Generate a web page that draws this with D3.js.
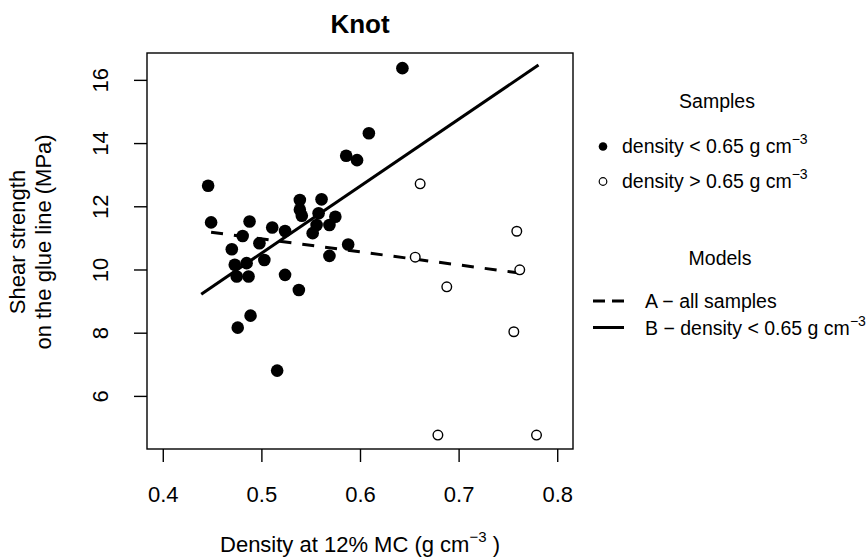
<!DOCTYPE html>
<html>
<head>
<meta charset="utf-8">
<script src="https://cdn.jsdelivr.net/npm/d3@7"></script>
<style>
    body { margin: 0; background: #fff; }
    svg text { font-family: "Liberation Sans", Arial, sans-serif; fill: #000; }
</style>
</head>
<body>
<div id="chart"></div>
<script>
// samples with density < 0.65 (filled dots)
const lowDensity = [0.446, 0.449, 0.470, 0.473, 0.475, 0.476, 0.481, 0.485, 0.487, 0.488, 0.489,
    0.498, 0.503, 0.511, 0.516, 0.524, 0.524, 0.538, 0.539, 0.539, 0.541, 0.552, 0.556, 0.558,
    0.561, 0.569, 0.569, 0.575, 0.586, 0.588, 0.597, 0.609, 0.643];
const lowStrength = [12.65, 11.49, 10.64, 10.15, 9.78, 8.16, 11.06, 10.20, 9.78, 11.52, 8.54,
    10.83, 10.30, 11.33, 6.80, 11.22, 9.83, 9.35, 12.20, 11.89, 11.70, 11.15, 11.41, 11.78,
    12.22, 11.41, 10.43, 11.67, 13.60, 10.79, 13.46, 14.31, 16.37];

// samples with density > 0.65 (open circles)
const highDensity = [0.661, 0.759, 0.656, 0.762, 0.688, 0.756, 0.679, 0.779];
const highStrength = [12.71, 11.21, 10.39, 9.99, 9.45, 8.03, 4.76, 4.76];

// model lines (end points)
const modelAx = [0.449, 0.769];
const modelAy = [11.18, 9.86];
const modelBx = [0.439, 0.781];
const modelBy = [9.22, 16.47];

const xTicks = [0.4, 0.5, 0.6, 0.7, 0.8];
const yTicks = [6, 8, 10, 12, 14, 16];

const sampleLabels = ["density < 0.65 g cm", "density > 0.65 g cm"];
const modelLabels = ["A \u2212 all samples", "B \u2212 density < 0.65 g cm"];

class KnotChart {
    constructor(container) {
        this.container = container;
        this.width = 868;
        this.height = 559;
        this.plot = { left: 147, right: 573, top: 53, bottom: 449 };
        this.init();
    }

    init() {
        d3.select(this.container).html("");
        this.svg = d3.select(this.container)
            .append("svg")
            .attr("width", this.width)
            .attr("height", this.height);
    }

    render() {
        const p = this.plot;
        const x = d3.scaleLinear().domain([0.384, 0.816]).range([p.left, p.right]);
        const y = d3.scaleLinear().domain([4.32, 16.85]).range([p.bottom, p.top]);
        const svg = this.svg;

        // 标题
        svg.append("text")
            .attr("x", (p.left + p.right) / 2)
            .attr("y", 33)
            .attr("text-anchor", "middle")
            .style("font-size", "26px")
            .style("font-weight", "bold")
            .text("Knot");

        // x axis
        const xAxis = svg.append("g")
            .attr("transform", `translate(0,${p.bottom})`)
            .call(d3.axisBottom(x).tickValues(xTicks).tickSize(13).tickSizeOuter(0)
                .tickPadding(24).tickFormat(d3.format(".1f")));
        xAxis.select(".domain").remove();
        xAxis.selectAll(".tick line").attr("stroke", "#000").attr("stroke-width", 1.4);
        xAxis.selectAll(".tick text").style("font-size", "22px").attr("fill", "#000");

        // y axis, labels rotated like R
        const yAxis = svg.append("g")
            .attr("transform", `translate(${p.left},0)`)
            .call(d3.axisLeft(y).tickValues(yTicks).tickSize(13).tickSizeOuter(0));
        yAxis.select(".domain").remove();
        yAxis.selectAll(".tick line").attr("stroke", "#000").attr("stroke-width", 1.4);
        yAxis.selectAll(".tick text")
            .attr("transform", "rotate(-90)")
            .attr("x", 0)
            .attr("y", -39)
            .attr("dy", 0)
            .attr("text-anchor", "middle")
            .attr("fill", "#000")
            .style("font-size", "22px");

        // box
        svg.append("rect")
            .attr("x", p.left).attr("y", p.top)
            .attr("width", p.right - p.left).attr("height", p.bottom - p.top)
            .attr("fill", "none").attr("stroke", "#000").attr("stroke-width", 1.4);

        // axis titles
        const xt = svg.append("text")
            .attr("x", (p.left + p.right) / 2)
            .attr("y", 552)
            .attr("text-anchor", "middle")
            .style("font-size", "22px");
        xt.append("tspan").text("Density at 12% MC (g cm");
        xt.append("tspan").attr("dy", -10).style("font-size", "15px").text("\u22123");
        xt.append("tspan").attr("dy", 10).text(" )");

        const yt = svg.append("text")
            .attr("transform", "translate(0,242) rotate(-90)")
            .attr("text-anchor", "middle")
            .style("font-size", "22px");
        yt.append("tspan").attr("x", 0).attr("y", 25).text("Shear strength");
        yt.append("tspan").attr("x", 0).attr("y", 51).text("on the glue line (MPa)");

        // model lines
        const line = d3.line().x(d => x(d[0])).y(d => y(d[1]));
        svg.append("path")
            .attr("d", line(d3.zip(modelAx, modelAy)))
            .attr("fill", "none").attr("stroke", "#000")
            .attr("stroke-width", 3).attr("stroke-dasharray", "12,11");
        svg.append("path")
            .attr("d", line(d3.zip(modelBx, modelBy)))
            .attr("fill", "none").attr("stroke", "#000").attr("stroke-width", 3);

        // points
        svg.append("g").selectAll("circle")
            .data(d3.zip(lowDensity, lowStrength))
            .join("circle")
            .attr("cx", d => x(d[0])).attr("cy", d => y(d[1]))
            .attr("r", 6.3).attr("fill", "#000");
        svg.append("g").selectAll("circle")
            .data(d3.zip(highDensity, highStrength))
            .join("circle")
            .attr("cx", d => x(d[0])).attr("cy", d => y(d[1]))
            .attr("r", 4.8).attr("fill", "#fff").attr("stroke", "#000").attr("stroke-width", 1.4);

        this.renderLegend();
    }

    renderLegend() {
        const svg = this.svg;
        const lg = svg.append("g");
        const fs = "19.5px";

        const addLabel = (xPos, yPos, label, sup) => {
            const t = lg.append("text").attr("x", xPos).attr("y", yPos).style("font-size", fs);
            t.append("tspan").text(label);
            if (sup) t.append("tspan").attr("dy", -9).style("font-size", "14px").text("\u22123");
        };

        lg.append("text").attr("x", 717).attr("y", 108)
            .attr("text-anchor", "middle").style("font-size", fs).text("Samples");
        lg.append("circle").attr("cx", 603).attr("cy", 146.5).attr("r", 4.3).attr("fill", "#000");
        lg.append("circle").attr("cx", 603).attr("cy", 181.5).attr("r", 3.8)
            .attr("fill", "#fff").attr("stroke", "#000").attr("stroke-width", 1.2);
        addLabel(622, 153, sampleLabels[0], true);
        addLabel(622, 188, sampleLabels[1], true);

        lg.append("text").attr("x", 720).attr("y", 265)
            .attr("text-anchor", "middle").style("font-size", fs).text("Models");
        lg.append("line").attr("x1", 593).attr("x2", 624).attr("y1", 301).attr("y2", 301)
            .attr("stroke", "#000").attr("stroke-width", 3).attr("stroke-dasharray", "12,7");
        lg.append("line").attr("x1", 593).attr("x2", 624).attr("y1", 327.5).attr("y2", 327.5)
            .attr("stroke", "#000").attr("stroke-width", 3);
        addLabel(645, 308, modelLabels[0], false);
        addLabel(645, 335, modelLabels[1], true);
    }
}

const chart = new KnotChart("#chart");
chart.render();
</script>
</body>
</html>
